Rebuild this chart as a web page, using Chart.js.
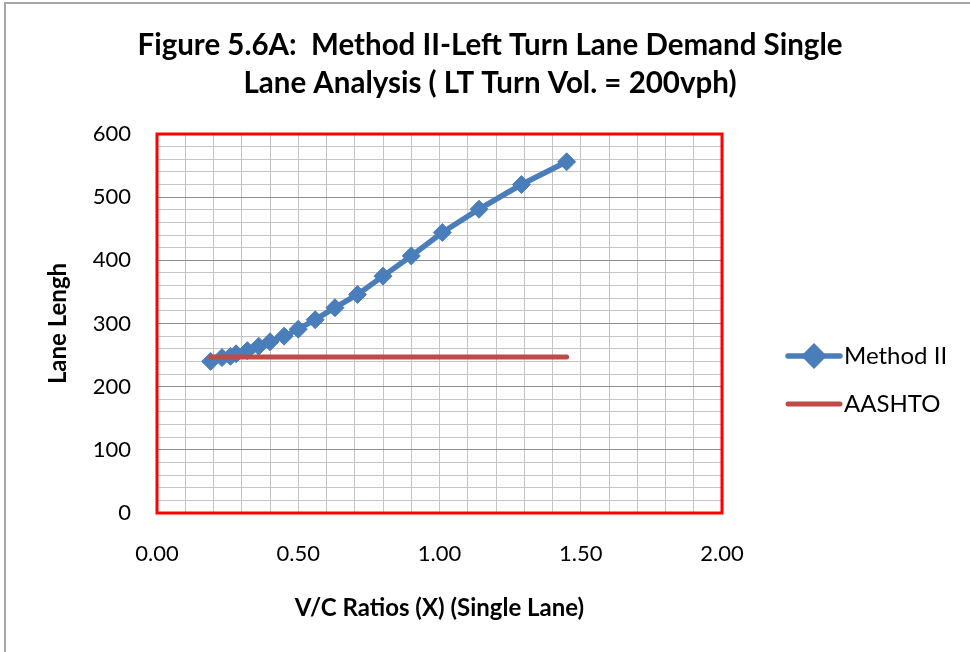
<!DOCTYPE html>
<html>
<head>
<meta charset="utf-8">
<title>Figure 5.6A</title>
<script src="https://cdn.jsdelivr.net/npm/chart.js@4.4.1/dist/chart.umd.min.js"></script>
<style>
  html, body { margin: 0; padding: 0; background: #fff; overflow: hidden; }
  #wrap { position: relative; width: 970px; height: 652px; }
  #frame { position: absolute; left: 4px; top: 2px; width: 1000px; height: 700px; border: 2px solid #a6a6a6; box-sizing: border-box; }
  #chart { position: absolute; left: 0; top: 0; }
</style>
</head>
<body>
<div id="wrap">
  <div id="frame"></div>
  <canvas id="chart" width="970" height="652"></canvas>
</div>
<script>
// V/C ratio (x) for each computed point
var vcRatios = [0.19, 0.23, 0.26, 0.28, 0.32, 0.36, 0.40, 0.45, 0.50, 0.56, 0.63, 0.71, 0.80, 0.90, 1.01, 1.14, 1.29, 1.45];
// Method II lane length
var methodII = [240, 246, 248, 252, 257, 264, 271, 280, 291, 306, 325, 346, 375, 407, 444, 481, 520, 556];
// AASHTO lane length (flat)
var aashto = [247, 247, 247, 247, 247, 247, 247, 247, 247, 247, 247, 247, 247, 247, 247, 247, 247, 247];

var seriesNames = ['Method II', 'AASHTO'];
var xTickLabels = ['0.00', '0.50', '1.00', '1.50', '2.00'];
var yTickLabels = ['0', '100', '200', '300', '400', '500', '600'];

var BLUE = '#4a7ebb';
var RED = '#be4b48';
var FONT = "Lato, 'Open Sans', sans-serif";

function toPoints(xs, ys) {
    return xs.map(function (x, i) { return { x: x, y: ys[i] }; });
}

// red plot-area frame
var plotBorder = {
    id: 'plotBorder',
    beforeDatasetsDraw: function (chart) {
        var a = chart.chartArea, ctx = chart.ctx;
        ctx.save();
        ctx.strokeStyle = '#ff0000';
        ctx.lineWidth = 3;
        ctx.strokeRect(a.left, a.top, a.right - a.left, a.bottom - a.top);
        ctx.restore();
    }
};

// legend on the right, line sample + marker like Excel
var sideLegend = {
    id: 'sideLegend',
    afterDraw: function (chart) {
        var ctx = chart.ctx;
        var rows = [356, 404];
        ctx.save();
        chart.data.datasets.forEach(function (ds, i) {
            var y = rows[i];
            ctx.strokeStyle = ds.borderColor;
            ctx.lineWidth = ds.borderWidth;
            ctx.lineCap = 'round';
            ctx.beginPath();
            ctx.moveTo(788, y);
            ctx.lineTo(840, y);
            ctx.stroke();
            if (ds.pointRadius > 0) {
                Chart.helpers.drawPoint(ctx, {
                    pointStyle: 'rectRot', radius: ds.pointRadius, borderWidth: 1,
                    rotation: 0
                }, 814, y);
                ctx.fillStyle = ds.borderColor;
                ctx.fill();
            }
            ctx.fillStyle = '#000';
            ctx.font = '24px ' + FONT;
            ctx.textBaseline = 'middle';
            ctx.textAlign = 'left';
            ctx.fillText(ds.label, 844, y);
        });
        ctx.restore();
    }
};

new Chart(document.getElementById('chart'), {
    type: 'line',
    data: {
        datasets: [{
            label: seriesNames[0],
            data: toPoints(vcRatios, methodII),
            order: 1,
            borderColor: BLUE,
            backgroundColor: BLUE,
            borderWidth: 5.5,
            pointStyle: 'rectRot',
            pointRadius: 9,
            pointBackgroundColor: BLUE,
            pointBorderColor: BLUE,
            pointBorderWidth: 1,
            tension: 0
        }, {
            label: seriesNames[1],
            data: toPoints(vcRatios, aashto),
            order: 0,
            borderColor: RED,
            backgroundColor: RED,
            borderWidth: 5,
            borderCapStyle: 'round',
            pointRadius: 0,
            tension: 0
        }]
    },
    options: {
        responsive: false,
        animation: false,
        layout: { padding: { left: 10, right: 0, top: 0, bottom: 0 } },
        plugins: {
            legend: { display: false },
            tooltip: { enabled: false },
            title: {
                display: true,
                text: ['Figure 5.6A:  Method II-Left Turn Lane Demand Single', 'Lane Analysis ( LT Turn Vol. = 200vph)'],
                color: '#000',
                font: { family: FONT, size: 29.5, weight: 'bold', lineHeight: '38px' },
                padding: { top: 26, bottom: 32 }
            }
        },
        scales: {
            x: {
                type: 'linear',
                min: 0,
                max: 2,
                ticks: {
                    stepSize: 0.1,
                    autoSkip: false,
                    maxRotation: 0,
                    padding: 28,
                    color: '#000',
                    font: { family: FONT, size: 22 },
                    callback: function (v) {
                        var label = v.toFixed(2);
                        return xTickLabels.indexOf(label) >= 0 ? label : '';
                    }
                },
                grid: { color: '#c4c4c4', drawTicks: false },
                border: { display: false },
                title: {
                    display: true,
                    text: 'V/C Ratios (X) (Single Lane)',
                    color: '#000',
                    font: { family: FONT, size: 24, weight: 'bold', lineHeight: 1.2 },
                    padding: { top: 0, bottom: 29 }
                },
                afterFit: function (s) { s.height = 139; }
            },
            y: {
                min: 0,
                max: 600,
                ticks: {
                    stepSize: 20,
                    autoSkip: false,
                    padding: 26,
                    color: '#000',
                    font: { family: FONT, size: 22 },
                    callback: function (v) {
                        var label = String(Math.round(v));
                        return yTickLabels.indexOf(label) >= 0 ? label : '';
                    }
                },
                grid: {
                    drawTicks: false,
                    color: function (c) {
                        return c.tick && c.tick.value % 100 === 0 ? '#8e8e8e' : '#c4c4c4';
                    }
                },
                border: { display: false },
                title: {
                    display: true,
                    text: 'Lane Lengh',
                    color: '#000',
                    font: { family: FONT, size: 24, weight: 'bold', lineHeight: 1.2 },
                    padding: { top: 34, bottom: 0 }
                },
                afterFit: function (s) { s.width = 147; }
            },
            // keeps room for the side legend
            pad: {
                type: 'linear',
                position: 'right',
                display: true,
                grid: { display: false },
                ticks: { display: false },
                border: { display: false },
                afterFit: function (s) { s.width = 248; }
            }
        }
    },
    plugins: [plotBorder, sideLegend]
});
</script>
</body>
</html>
